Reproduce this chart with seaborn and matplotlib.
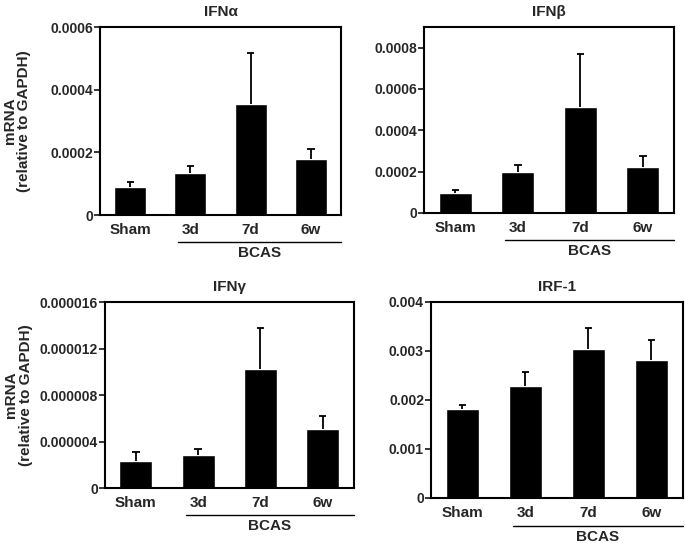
import matplotlib
matplotlib.use("Agg")
import matplotlib.pyplot as plt
import matplotlib.transforms as mtransforms
import pandas as pd
import seaborn as sns

sns.set_style("ticks")
plt.rcParams["font.family"] = ["Liberation Sans", "DejaVu Sans"]
plt.rcParams["font.weight"] = "bold"

groups = ["Sham", "3d", "7d", "6w"]

ifna_mean = [0.000091, 0.000134, 0.000355, 0.000179]
ifna_err = [0.000013, 0.000021, 0.000164, 0.000031]
ifnb_mean = [0.000097, 0.000197, 0.000513, 0.000223]
ifnb_err = [0.000016, 0.000034, 0.000258, 0.000051]
ifng_mean = [0.00000232, 0.00000284, 0.00001024, 0.00000508]
ifng_err = [0.00000083, 0.00000051, 0.00000352, 0.00000117]
irf1_mean = [0.00182, 0.00229, 0.00303, 0.00282]
irf1_err = [0.00008, 0.00027, 0.00043, 0.00040]

ifna_ticks = [0, 0.0002, 0.0004, 0.0006]
ifna_labels = ["0", "0.0002", "0.0004", "0.0006"]
ifnb_ticks = [0, 0.0002, 0.0004, 0.0006, 0.0008]
ifnb_labels = ["0", "0.0002", "0.0004", "0.0006", "0.0008"]
ifng_ticks = [0, 0.000004, 0.000008, 0.000012, 0.000016]
ifng_labels = ["0", "0.000004", "0.000008", "0.000012", "0.000016"]
irf1_ticks = [0, 0.001, 0.002, 0.003, 0.004]
irf1_labels = ["0", "0.001", "0.002", "0.003", "0.004"]

panels = [
    ("IFNα", ifna_mean, ifna_err, ifna_ticks, ifna_labels, 0.0006, True,
     [0.146, 0.604, 0.352, 0.346]),
    ("IFNβ", ifnb_mean, ifnb_err, ifnb_ticks, ifnb_labels, 0.0009, False,
     [0.619, 0.608, 0.365, 0.3425]),
    ("IFNγ", ifng_mean, ifng_err, ifng_ticks, ifng_labels, 0.000016, True,
     [0.153, 0.101, 0.3635, 0.3425]),
    ("IRF-1", irf1_mean, irf1_err, irf1_ticks, irf1_labels, 0.004, False,
     [0.629, 0.083, 0.368, 0.361]),
]

fig = plt.figure(figsize=(6.85, 5.43), dpi=100)

for title, mean, err, ticks, labels, top, ylab, pos in panels:
    ax = fig.add_axes(pos)
    df = pd.DataFrame({"group": groups, "value": mean})
    sns.barplot(data=df, x="group", y="value", color="black", width=0.53,
                errorbar=None, ax=ax, saturation=1)
    # upper error bars only, capped at the top
    xs = list(range(len(groups)))
    tops = [m + e for m, e in zip(mean, err)]
    ax.vlines(xs, mean, tops, color="black", lw=1.3)
    ax.hlines(tops, [x - 0.06 for x in xs], [x + 0.06 for x in xs],
              color="black", lw=1.3)
    ax.set_xlim(-0.5, 3.5)
    ax.set_ylim(0, top)
    ax.set_yticks(ticks)
    ax.set_yticklabels(labels, fontsize=10, fontweight="bold")
    ax.set_xticks(xs)
    ax.set_xticklabels(groups, fontsize=11, fontweight="bold")
    ax.tick_params(axis="x", length=0, pad=6)
    ax.tick_params(axis="y", length=4, width=1.3, pad=1)
    ax.set_xlabel("")
    ax.set_ylabel("")
    for s in ax.spines.values():
        s.set_visible(True)
        s.set_linewidth(1.5)
        s.set_color("black")
    ax.set_title(title, fontsize=11, fontweight="bold", pad=8)

    trans = mtransforms.blended_transform_factory(ax.transData, ax.transAxes)
    ax.plot([0.8, 3.5], [-0.145, -0.145], color="black", lw=1.0,
            transform=trans, clip_on=False)
    ax.text(2.15, -0.165, "BCAS", transform=trans, ha="center", va="top",
            fontsize=11, fontweight="bold")

    if ylab:
        ax.text(-0.375, 0.5, "mRNA", transform=ax.transAxes, rotation=90,
                ha="center", va="center", fontsize=11, fontweight="bold")
        ax.text(-0.315, 0.5, "(relative to GAPDH)", transform=ax.transAxes,
                rotation=90, ha="center", va="center", fontsize=11,
                fontweight="bold")

fig.savefig("out.png", dpi=100)
